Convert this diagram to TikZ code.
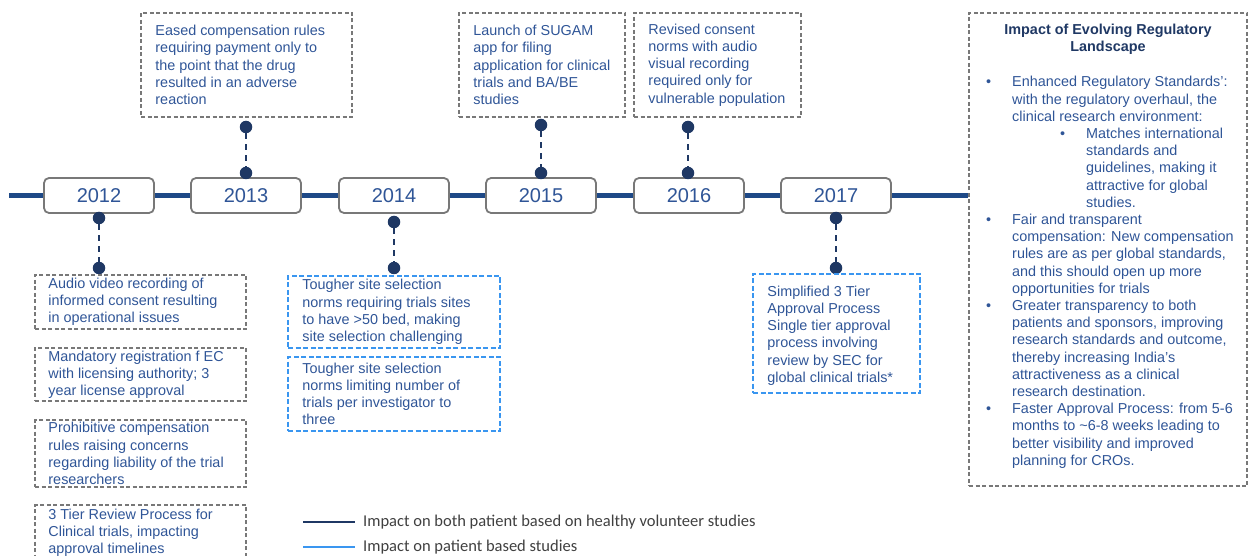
\documentclass[tikz,border=0pt]{standalone}
\usepackage{fontspec}
\setmainfont{Liberation Sans}
\newfontfamily\legendfont{Carlito}
\usetikzlibrary{positioning}
\definecolor{navy}{RGB}{31,56,100}
\definecolor{tlblue}{RGB}{30,73,135}
\definecolor{txtblue}{RGB}{47,85,151}
\definecolor{boxgray}{RGB}{120,120,120}
\definecolor{lightblue}{RGB}{58,150,240}
\definecolor{legendgray}{RGB}{64,64,64}

\begin{document}
\begin{tikzpicture}[x=1pt, y=-1pt, font=\fontsize{14.4}{17.2}\selectfont]
        \tikzstyle{yearbox} = [draw=boxgray, line width=1.8pt, rounded corners=5pt, fill=white, minimum width=110pt, minimum height=35pt, text=txtblue, font=\fontsize{20}{24}\selectfont]
        \tikzstyle{gbox} = [draw=boxgray, line width=1.5pt, dash pattern=on 4pt off 2.5pt, inner sep=0pt]
        \tikzstyle{bbox} = [gbox, draw=lightblue, dash pattern=on 5pt off 2.5pt]
        \tikzstyle{txt} = [align=left, inner sep=0pt, text=txtblue]
        \tikzstyle{pin} = [circle, fill=navy, minimum size=12.5pt, inner sep=0pt]
        \tikzstyle{stem} = [navy, line width=2.2pt, dash pattern=on 6pt off 5pt]
        \tikzstyle{legend} = [inner sep=0pt, text=legendgray, font=\legendfont\fontsize{16.5}{20}\selectfont]
        \useasboundingbox (0,0) rectangle (1251,556);
        \clip (0,0) rectangle (1251,556);

        % impact box on the right
        \node[gbox, minimum width=278pt, minimum height=473pt] (impact) at (1108,249.5) {};
        \node[txt, align=center, text=navy, font=\fontsize{14.4}{17.2}\selectfont\bfseries, below=11.5pt of impact.north] (ttl) {Impact of Evolving Regulatory\\Landscape};
        \node[inner sep=0pt, text=txtblue, anchor=base west] (lst) at (986,87) {%
          \begin{tabular}[t]{@{}p{26pt}@{}l@{}}
            \textbullet & Enhanced Regulatory Standards’:\\
             & with the regulatory overhaul, the\\
             & clinical research environment:\\
             & \hspace{48pt}\makebox[26pt][l]{\textbullet}Matches international\\
             & \hspace{74pt}standards and\\
             & \hspace{74pt}guidelines, making it\\
             & \hspace{74pt}attractive for global\\
             & \hspace{74pt}studies.\\
            \textbullet & Fair and transparent\\
             & compensation: New compensation\\
             & rules are as per global standards,\\
             & and this should open up more\\
             & opportunities for trials\\
            \textbullet & Greater transparency to both\\
             & patients and sponsors, improving\\
             & research standards and outcome,\\
             & thereby increasing India’s\\
             & attractiveness as a clinical\\
             & research destination.\\
            \textbullet & Faster Approval Process: from 5-6\\
             & months to \textasciitilde6-8 weeks leading to\\
             & better visibility and improved\\
             & planning for CROs.
          \end{tabular}};

        % timeline
        \coordinate (tl) at (9,195.5);
        \draw[tlblue, line width=5pt] (tl) -- (tl -| impact.west);
        \foreach \yr/\xx in {2012/99, 2013/246, 2014/394, 2015/541, 2016/689, 2017/836}
          \node[yearbox] (y\yr) at (\xx,195.5) {\yr};
        \foreach \yr/\xx/\ya/\yb in {2012/99/218/268, 2013/246/127/173, 2014/394/222/268, 2015/541/125/173, 2016/688/127/173, 2017/836/218/268} {
          \node[pin] (top\yr) at (\xx,\ya) {};
          \node[pin] (bot\yr) at (\xx,\yb) {};
          \draw[stem] (top\yr) -- (bot\yr);
        }

        % boxes above the timeline
        \node[gbox, minimum width=211pt, minimum height=104pt] (b13) at (246.5,65) {};
        \node[txt, right=15pt of b13.west] (t13) {Eased compensation rules\\requiring payment only to\\the point that the drug\\resulted in an adverse\\reaction};
        \node[gbox, minimum width=166pt, minimum height=104pt] (b15) at (542,65) {};
        \node[txt, right=15pt of b15.west] (t15) {Launch of SUGAM\\app for filing\\application for clinical\\trials and BA/BE\\studies};
        \node[gbox, minimum width=167pt, minimum height=104pt] (b16) at (717.5,65) {};
        \node[txt, right=15pt of b16.west] (t16) {Revised consent\\norms with audio\\visual recording\\required only for\\vulnerable population};

        % boxes below the timeline
        \node[gbox, minimum width=211pt, minimum height=54pt] (b12a) at (140.5,302) {};
        \node[txt, right=14pt of b12a.west] (t12a) {Audio video recording of\\informed consent resulting\\in operational issues};
        \node[gbox, minimum width=211pt, minimum height=53pt] (b12b) at (140.5,374.5) {};
        \node[txt, right=14pt of b12b.west] (t12b) {Mandatory registration f EC\\with licensing authority; 3\\year license approval};
        \node[gbox, minimum width=211pt, minimum height=67pt] (b12c) at (140.5,453.5) {};
        \node[txt, right=14pt of b12c.west] (t12c) {Prohibitive compensation\\rules raising concerns\\regarding liability of the trial\\researchers};
        \node[gbox, minimum width=211pt, minimum height=55pt] (b12d) at (140.5,532.5) {};
        \node[txt, right=14pt of b12d.west] (t12d) {3 Tier Review Process for\\Clinical trials, impacting\\approval timelines};

        \node[bbox, minimum width=212pt, minimum height=72pt] (b14a) at (394,312) {};
        \node[txt, right=15pt of b14a.west] (t14a) {Tougher site selection\\norms requiring trials sites\\to have >50 bed, making\\site selection challenging};
        \node[bbox, minimum width=212pt, minimum height=74pt] (b14b) at (394,394) {};
        \node[txt, right=15pt of b14b.west] (t14b) {Tougher site selection\\norms limiting number of\\trials per investigator to\\three};
        \node[bbox, minimum width=167pt, minimum height=119pt] (b17) at (836.5,333.5) {};
        \node[txt, right=15pt of b17.west, yshift=-2pt] (t17) {Simplified 3 Tier\\Approval Process\\Single tier approval\\process involving\\review by SEC for\\global clinical trials*};

        % legend
        \coordinate (k1a) at (303,522);
        \coordinate (k1b) at (355,522);
        \coordinate (k2a) at (303,547);
        \coordinate (k2b) at (355,547);
        \draw[navy, line width=2pt] (k1a) -- (k1b);
        \draw[lightblue, line width=2pt] (k2a) -- (k2b);
        \node[legend, anchor=west] (lg1) at (363,522) {Impact on both patient based on healthy volunteer studies};
        \node[legend, anchor=west] (lg2) at (363,547) {Impact on patient based studies};
      \end{tikzpicture}
\end{document}
